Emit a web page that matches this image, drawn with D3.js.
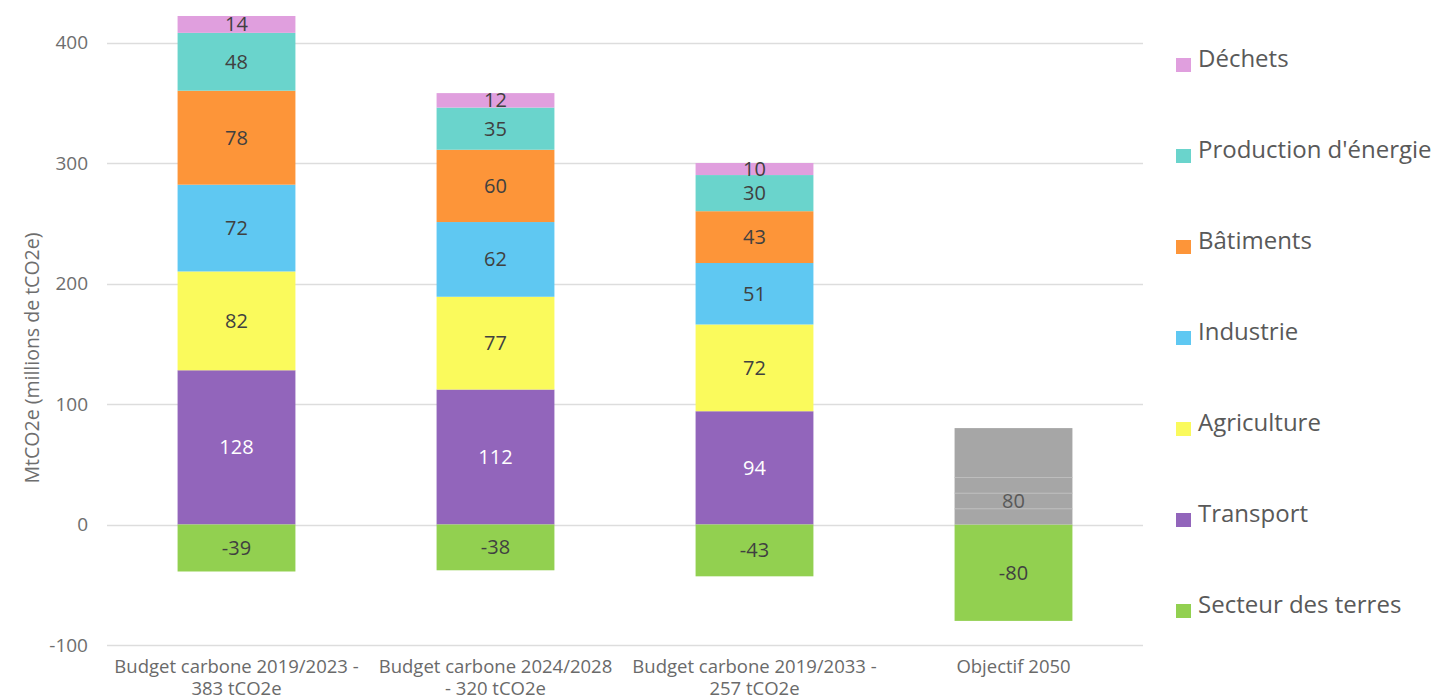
<!DOCTYPE html>
<html>
<head>
<meta charset="utf-8">
<script src="https://cdn.jsdelivr.net/npm/d3@7"></script>
<style>
  html, body { margin: 0; padding: 0; background: #fff; }
  svg { display: block; font-family: "Open Sans", sans-serif; }
</style>
</head>
<body>
<svg id="chart" width="1439" height="700"></svg>
<script>
// Budgets carbone par secteur (MtCO2e)
const categories = [
  ["Budget carbone 2019/2023 -", "383 tCO2e"],
  ["Budget carbone 2024/2028", "- 320 tCO2e"],
  ["Budget carbone 2019/2033 -", "257 tCO2e"],
  ["Objectif 2050"]
];
const sectors = ["Transport", "Agriculture", "Industrie", "Bâtiments", "Production d'énergie", "Déchets"];
const transport   = [128, 112, 94, null];
const agriculture = [82, 77, 72, null];
const industrie   = [72, 62, 51, null];
const batiments   = [78, 60, 43, null];
const production  = [48, 35, 30, null];
const dechets     = [14, 12, 10, null];
const terres      = [-39, -38, -43, -80];
// Émissions résiduelles 2050 (bloc gris, sous-parties empilées)
const objectifParts = [13, 13, 13, 41];
const objectifTotal = 80;
const yTicks = [-100, 0, 100, 200, 300, 400];

const colors = {
  "Transport": "#9265bb",
  "Agriculture": "#fafa5c",
  "Industrie": "#5fc8f2",
  "Bâtiments": "#fd9539",
  "Production d'énergie": "#6ad4cc",
  "Déchets": "#e09fde",
  "Secteur des terres": "#92d050",
  "Objectif": "#a6a6a6"
};
const legendOrder = ["Déchets", "Production d'énergie", "Bâtiments", "Industrie", "Agriculture", "Transport", "Secteur des terres"];
const seriesValues = [transport, agriculture, industrie, batiments, production, dechets];

const svg = d3.select("#chart");
const x0 = 107, x1 = 1143;
const x = d3.scaleBand().domain(d3.range(categories.length)).range([x0, x1]).paddingInner(0.545).paddingOuter(0.2725);
const y = d3.scaleLinear().domain([-100, 400]).range([645, 42.5]);

// grid
svg.append("g").selectAll("line").data(yTicks).join("line")
  .attr("x1", x0).attr("x2", x1)
  .attr("y1", d => Math.round(y(d)) + 0.5).attr("y2", d => Math.round(y(d)) + 0.5)
  .attr("stroke", "#dddddd").attr("stroke-width", 1.5);

// y axis labels (plain hyphen for negatives)
const yAxis = d3.axisLeft(y).tickValues(yTicks).tickSize(0).tickPadding(0).tickFormat(d => String(d));
const ya = svg.append("g").attr("transform", "translate(88,0)").call(yAxis);
ya.select(".domain").remove();
ya.selectAll("text").attr("font-size", 19).attr("fill", "#6e6e6e").attr("font-family", "Open Sans, sans-serif");

// y title
svg.append("text")
  .attr("transform", "translate(39,358) rotate(-90)")
  .attr("text-anchor", "middle")
  .attr("font-size", 19.5).attr("fill", "#6e6e6e")
  .text("MtCO2e (millions de tCO2e)");

// stacked segments
const segs = [];
categories.forEach((c, i) => {
  let base = 0;
  sectors.forEach((s, k) => {
    const v = seriesValues[k][i];
    if (v == null) return;
    segs.push({ i, s, y0: base, y1: base + v, v });
    base += v;
  });
  segs.push({ i, s: "Secteur des terres", y0: terres[i], y1: 0, v: terres[i] });
});

svg.append("g").selectAll("rect").data(segs).join("rect")
  .attr("x", d => x(d.i)).attr("width", x.bandwidth())
  .attr("y", d => y(d.y1)).attr("height", d => y(d.y0) - y(d.y1))
  .attr("fill", d => colors[d.s]);

// Objectif 2050 grey block
let acc = 0;
const parts = objectifParts.map(v => { const p = { y0: acc, y1: acc + v }; acc += v; return p; });
const gObj = svg.append("g");
gObj.selectAll("rect").data(parts).join("rect")
  .attr("x", x(3)).attr("width", x.bandwidth())
  .attr("y", d => y(d.y1)).attr("height", d => y(d.y0) - y(d.y1))
  .attr("fill", colors.Objectif);
gObj.selectAll("line").data(parts.slice(1)).join("line")
  .attr("x1", x(3)).attr("x2", x(3) + x.bandwidth())
  .attr("y1", d => y(d.y0)).attr("y2", d => y(d.y0))
  .attr("stroke", "#bdbdbd").attr("stroke-width", 1);
const lowerTop = objectifParts.slice(0, 3).reduce((a, b) => a + b, 0);
svg.append("text")
  .attr("x", x(3) + x.bandwidth() / 2).attr("y", y(lowerTop / 2))
  .attr("dy", "0.35em").attr("text-anchor", "middle")
  .attr("font-size", 20).attr("fill", "#595959")
  .text(objectifTotal);

// value labels
svg.append("g").selectAll("text").data(segs).join("text")
  .attr("x", d => x(d.i) + x.bandwidth() / 2)
  .attr("y", d => y((d.y0 + d.y1) / 2))
  .attr("dy", "0.35em").attr("text-anchor", "middle")
  .attr("font-size", 20)
  .attr("fill", d => d.s === "Transport" ? "#ffffff" : "#404040")
  .text(d => d.v);

// category labels
const gx = svg.append("g");
categories.forEach((lines, i) => {
  const t = gx.append("text")
    .attr("x", x(i) + x.bandwidth() / 2).attr("y", 673)
    .attr("text-anchor", "middle")
    .attr("font-size", 18.5).attr("fill", "#6a6a6a");
  lines.forEach((ln, j) => {
    t.append("tspan").attr("x", x(i) + x.bandwidth() / 2).attr("dy", j === 0 ? 0 : 22).text(ln);
  });
});

// legend
const lg = svg.append("g");
legendOrder.forEach((s, k) => {
  const cy = 59 + k * 91;
  lg.append("rect").attr("x", 1176).attr("y", cy - 1).attr("width", 15).attr("height", 14).attr("fill", colors[s]);
  lg.append("text").attr("x", 1198).attr("y", cy).attr("dy", "0.35em")
    .attr("font-size", 24).attr("fill", "#595959").text(s);
});
</script>
</body>
</html>
